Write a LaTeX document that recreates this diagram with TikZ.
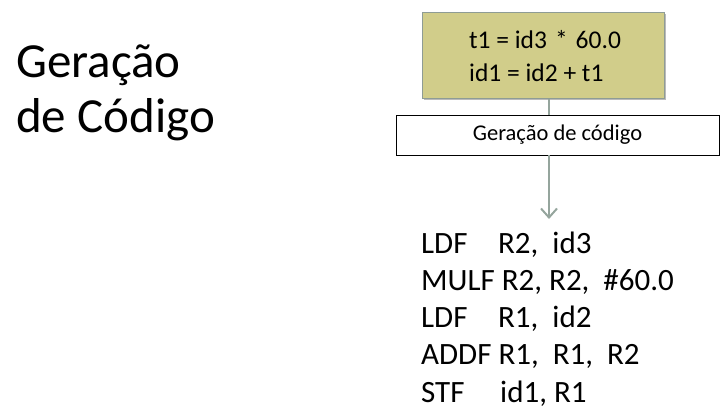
\documentclass[tikz,border=0pt]{standalone}
\usepackage{fontspec}
\setmainfont{Carlito}
\usetikzlibrary{arrows.meta,shadows}
\definecolor{olivebox}{HTML}{D1CD8A}
\definecolor{boxline}{HTML}{8E9C95}
\definecolor{conn}{HTML}{95A59D}
\tikzset{
  codeline/.style={anchor=base west, inner sep=0pt, font=\fontsize{31bp}{37bp}\selectfont},
  title/.style={anchor=base west, inner sep=0pt, font=\fontsize{49bp}{55bp}\selectfont},
  irtext/.style={anchor=base west, inner sep=0pt, font=\fontsize{25.5bp}{30bp}\selectfont},
  irbox/.style={draw=boxline, line width=1bp, fill=olivebox, minimum width=242bp, minimum height=86bp, inner sep=0pt,
    drop shadow={shadow xshift=2bp, shadow yshift=-2bp, fill=black!45, opacity=0.6}},
  phasebox/.style={draw=black, line width=0.8bp, fill=white, minimum width=323bp, minimum height=40bp, inner sep=0pt,
    font=\fontsize{22.5bp}{26bp}\selectfont},
  connector/.style={draw=conn, line width=2bp},
}
\begin{document}
\begin{tikzpicture}[x=1bp,y=-1bp]
\useasboundingbox (0,0) rectangle (726,412);
% title
\node[title] (t1) at (16,77) {Geração};
\node[title] (t2) at (16,132) {de Código};
% intermediate code box
\node[irbox] (ir) at (543,55) {};
\node[irtext] (irA) at (469,48) {t1 = id3\hspace{8bp}*\hspace{8bp}60.0};
\node[irtext] (irB) at (469,81) {id1 = id2 + t1};
% phase box
\node[phasebox] (ph) at (557.5,135) {Geração de código};
\coordinate (tip) at (549,219);
\draw[connector] (ir.south -| tip) -- (ph.north -| tip);
\draw[connector, -{Straight Barb[length=9bp,width=16bp,line width=2bp]}] (ph.south -| tip) -- (tip);
% target code
\node[codeline] (c1) at (421,253) {\makebox[77bp][l]{LDF}R2,\ \ id3};
\node[codeline] (c2) at (421,290) {MULF R2, R2,\ \ \#60.0};
\node[codeline] (c3) at (421,327) {\makebox[77bp][l]{LDF}R1,\ \ id2};
\node[codeline] (c4) at (421,364) {ADDF R1,\ \ R1,\ \ R2};
\node[codeline] (c5) at (421,402) {\makebox[79bp][l]{STF}id1, R1};
\end{tikzpicture}
\end{document}
